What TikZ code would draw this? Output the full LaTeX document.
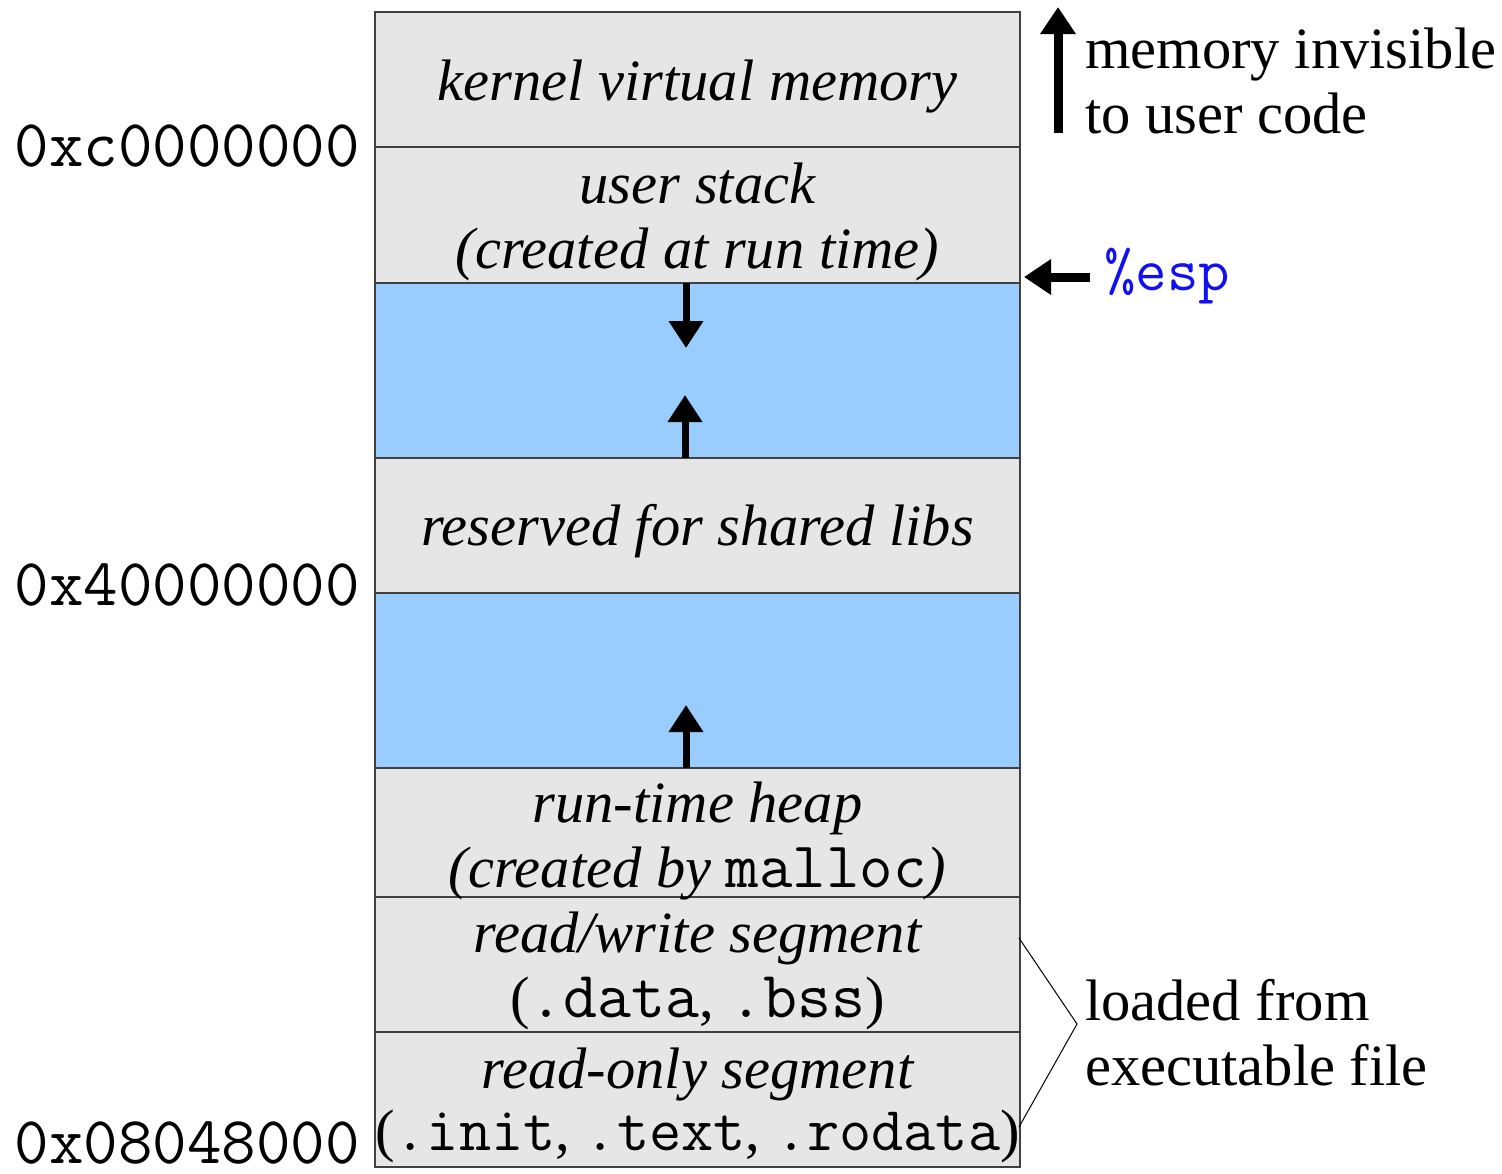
\documentclass[tikz,border=0pt]{standalone}
\usepackage{fontspec}
\setmainfont{Liberation Serif}
\usetikzlibrary{arrows.meta}
\definecolor{seggray}{HTML}{E6E6E6}
\definecolor{segblue}{HTML}{99CCFF}
\definecolor{espblue}{HTML}{1010F0}
\newcommand{\mono}[2][65]{{\fontsize{#1}{#1}\selectfont\ttfamily\upshape #2}}
\begin{document}
\begin{tikzpicture}[x=1pt,y=-1pt,
  seg/.style={draw=black!75, line width=1.5pt, minimum width=645pt, inner sep=0pt, outer sep=0pt},
  gray seg/.style={seg, fill=seggray},
  blue seg/.style={seg, fill=segblue},
  lbl/.style={font=\fontsize{58.5}{65}\selectfont\itshape, anchor=base, inner sep=0pt},
  tt/.style={font=\fontsize{58.5}{65}\selectfont\upshape, anchor=base, inner sep=0pt},
  addr/.style={font=\fontsize{67}{67}\selectfont\ttfamily, anchor=base east, inner sep=0pt},
  side/.style={font=\fontsize{58.5}{65}\selectfont, anchor=base west, inner sep=0pt},
  arr/.style={-{Triangle[length=27pt,width=33pt]}, line width=7pt},
  bigarr/.style={-{Triangle[length=27pt,width=34pt]}, line width=9pt},
  brace/.style={line width=1pt, black}
]
\useasboundingbox (0,0) rectangle (1502,1173);

% segments
\node[gray seg, minimum height=135pt] (kernel) at (697.5,79.5) {};
\node[gray seg, minimum height=136pt] (stack)  at (697.5,215) {};
\node[blue seg, minimum height=175pt] (gap1)   at (697.5,370.5) {};
\node[gray seg, minimum height=135pt] (libs)   at (697.5,525.5) {};
\node[blue seg, minimum height=175pt] (gap2)   at (697.5,680.5) {};
\node[gray seg, minimum height=129pt] (heap)   at (697.5,832.5) {};
\node[gray seg, minimum height=135pt] (rw)     at (697.5,964.5) {};
\node[gray seg, minimum height=135pt] (ro)     at (697.5,1099.5) {};

% texts in segments
\node[lbl] (tkernel) at (697.5,100) {kernel virtual memory};
\node[lbl] (tstack1) at (697.5,203) {user stack};
\node[lbl] (tstack2) at (697.5,268) {(created at run time)};
\node[lbl] (tlibs)   at (697.5,545) {reserved for shared libs};
\node[lbl] (theap1)  at (697.5,822) {run-time heap};
\node[lbl] (theap2)  at (697.5,887) {(created by \mono{malloc})};
\node[lbl] (trw1)    at (697.5,952) {read/write segment};
\node[tt]  (trw2)    at (697.5,1017) {(\mono[66]{.data}, \mono[66]{.bss})};
\node[lbl] (tro1)    at (697.5,1088) {read-only segment};
\node[tt]  (tro2)    at (697.5,1150) {(\mono[62.5]{.init}, \mono[62.5]{.text}, \mono[62.5]{.rodata})};

% addresses
\node[addr] (a1) at (360,166) {0xc0000000};
\node[addr] (a2) at (360,605) {0x40000000};
\node[addr] (a3) at (360,1163) {0x08048000};

% growth arrows
\coordinate (d1) at (686,348);
\coordinate (u1) at (685,395);
\coordinate (u2) at (686,705);
\draw[arr] (stack.south -| d1) -- (d1);
\draw[arr] (libs.north -| u1) -- (u1);
\draw[arr] (heap.north -| u2) -- (u2);

% kernel invisible arrow
\coordinate (k0) at (1058,133);
\coordinate (k1) at (1058,7);
\draw[bigarr] (k0) -- (k1);
\node[side] (inv1) at (1085,68) {memory invisible};
\node[side] (inv2) at (1085,133) {to user code};

% esp
\node[font=\fontsize{61}{61}\selectfont\ttfamily, text=espblue, anchor=base west, inner sep=0pt] (esp) at (1104,290) {\%esp};
\coordinate (e0) at (1090,277);
\coordinate (e1) at (1024,277);
\draw[bigarr] (e0) -- (e1);

% loaded from executable file
\coordinate (b0) at (1019,938);
\coordinate (b1) at (1077,1024);
\coordinate (b2) at (1019,1127);
\draw[brace] (b0) -- (b1) -- (b2);
\node[side] (ld1) at (1085,1020) {loaded from};
\node[side] (ld2) at (1085,1085) {executable file};
\end{tikzpicture}
\end{document}
